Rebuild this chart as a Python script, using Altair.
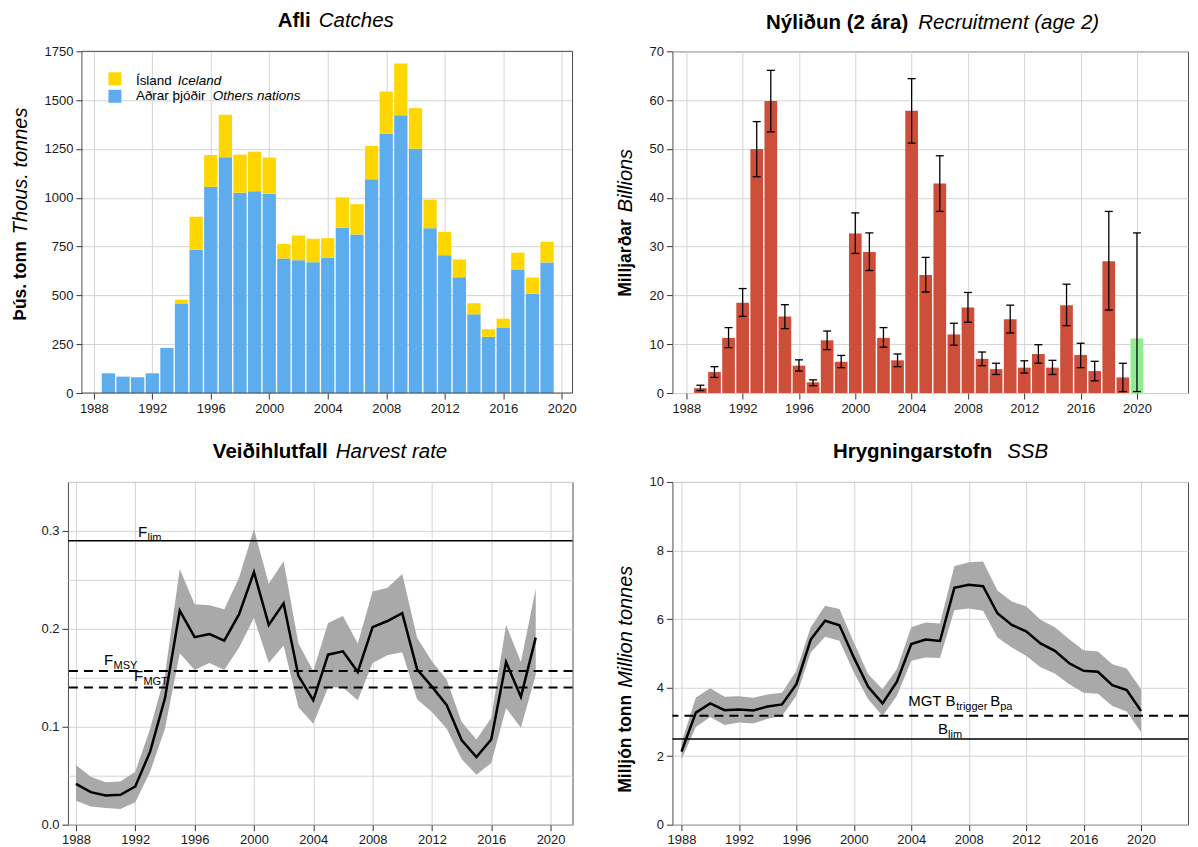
import altair as alt
import pandas as pd

FONT = "Liberation Sans"
FRAME = "#4d4d4d"

# ---------------- data ----------------
catch_years = list(range(1989, 2020))
catch_others = [101, 84, 81, 101, 231, 458, 733, 1056, 1208, 1026, 1034, 1021, 689, 680, 670, 692,
                847, 812, 1095, 1327, 1423, 1251, 844, 706, 593, 403, 288, 333, 632, 509, 669]
catch_iceland = [0, 0, 0, 0, 0, 20, 170, 163, 217, 195, 202, 185, 74, 127, 120, 101,
                 155, 155, 170, 217, 265, 208, 146, 119, 91, 57, 39, 48, 87, 82, 106]

rec_years = list(range(1989, 2021))
rec_value = [1.0, 4.3, 11.3, 18.5, 50.0, 59.8, 15.7, 5.6, 2.2, 10.8, 6.4, 32.7, 28.9, 11.3, 6.7, 57.8,
             24.2, 42.9, 12.0, 17.5, 7.0, 4.9, 15.1, 5.2, 8.0, 5.2, 18.0, 7.8, 4.5, 27.0, 3.2, 11.2]
rec_low = [0.5, 3.2, 9.3, 15.7, 44.3, 53.5, 13.2, 4.5, 1.5, 8.9, 5.2, 28.6, 25.1, 9.4, 5.4, 51.2,
           20.7, 37.2, 9.8, 14.5, 5.6, 3.8, 12.3, 4.1, 6.1, 3.8, 13.8, 5.2, 2.5, 17.0, 0.3, 0.3]
rec_high = [1.6, 5.4, 13.4, 21.4, 55.6, 66.1, 18.1, 6.8, 2.7, 12.7, 7.7, 36.9, 32.8, 13.4, 8.0, 64.4,
            27.8, 48.6, 14.3, 20.6, 8.4, 6.1, 18.0, 6.6, 9.9, 6.7, 22.3, 10.2, 6.5, 37.2, 6.1, 32.8]
rec_kind = ["mat"] * 31 + ["spá"]

hr_years = list(range(1988, 2020))
hr_value = [0.0417, 0.0332, 0.0298, 0.0305, 0.039, 0.0746, 0.129, 0.2186, 0.1915, 0.1946, 0.188,
            0.215, 0.258, 0.204, 0.226, 0.152, 0.127, 0.1736, 0.177, 0.156, 0.2017, 0.208, 0.216,
            0.1586, 0.141, 0.122, 0.0864, 0.069, 0.087, 0.166, 0.1305, 0.191]
hr_low = [0.0244, 0.0186, 0.017, 0.016, 0.023, 0.054, 0.098, 0.175, 0.158, 0.165, 0.158, 0.181,
          0.211, 0.165, 0.183, 0.120, 0.103, 0.140, 0.140, 0.127, 0.165, 0.173, 0.176, 0.128,
          0.115, 0.098, 0.067, 0.051, 0.063, 0.119, 0.099, 0.153]
hr_high = [0.061, 0.049, 0.0434, 0.044, 0.054, 0.098, 0.153, 0.261, 0.225, 0.224, 0.220, 0.2525,
           0.302, 0.246, 0.269, 0.185, 0.157, 0.206, 0.213, 0.185, 0.238, 0.242, 0.256, 0.191,
           0.167, 0.148, 0.105, 0.087, 0.109, 0.204, 0.166, 0.241]

ssb_years = list(range(1988, 2021))
ssb_value = [2.13, 3.27, 3.54, 3.34, 3.36, 3.33, 3.45, 3.51, 4.10, 5.40, 5.95, 5.82, 4.88, 4.02,
             3.54, 4.17, 5.27, 5.40, 5.36, 6.91, 7.00, 6.96, 6.17, 5.83, 5.64, 5.29, 5.07, 4.71,
             4.49, 4.46, 4.07, 3.93, 3.32]
ssb_low = [1.90, 2.85, 3.14, 2.91, 2.98, 2.95, 3.09, 3.17, 3.76, 5.02, 5.48, 5.37, 4.44, 3.66,
           3.17, 3.76, 4.78, 4.88, 4.86, 6.26, 6.31, 6.24, 5.46, 5.17, 4.93, 4.59, 4.41, 4.10,
           3.85, 3.82, 3.46, 3.30, 2.70]
ssb_high = [2.39, 3.71, 3.98, 3.73, 3.75, 3.70, 3.80, 3.85, 4.49, 5.76, 6.39, 6.29, 5.32, 4.39,
            3.95, 4.54, 5.76, 5.90, 5.87, 7.54, 7.66, 7.68, 6.83, 6.51, 6.37, 5.98, 5.76, 5.41,
            5.09, 5.05, 4.68, 4.56, 3.95]

f_lim, f_msy, f_mgt = 0.29, 0.157, 0.14
b_trigger, b_lim = 3.18, 2.5

grid_years_left = list(range(1988, 2021, 2))
grid_years_right = list(range(1988, 2023, 2))
grid_catch = list(range(0, 1751, 125))
grid_rec = list(range(0, 71, 5))
grid_hr = [0.0, 0.05, 0.1, 0.15, 0.2, 0.25, 0.3, 0.35]
grid_ssb = list(range(0, 11))

df_catch = pd.DataFrame({"year": catch_years, "others": catch_others, "iceland": catch_iceland})
df_catch["total"] = df_catch["others"] + df_catch["iceland"]
df_rec = pd.DataFrame({"year": rec_years, "value": rec_value, "low": rec_low, "high": rec_high,
                       "kind": rec_kind})
df_hr = pd.DataFrame({"year": hr_years, "value": hr_value, "low": hr_low, "high": hr_high})
df_ssb = pd.DataFrame({"year": ssb_years, "value": ssb_value, "low": ssb_low, "high": ssb_high})
one = pd.DataFrame({"a": [0]})

# ---------------- layout ----------------
WL, WR = 505, 516
HT, HB = 342, 343
TL_SHIFT = 14


def cond(test, a, b):
    return {"condition": {"test": test, "value": a}, "value": b}


def x_axis(values):
    return alt.Axis(values=values, format="d", title=None, grid=True,
                    labelExpr="datum.value % 4 == 0 ? datum.label : ''",
                    tickOpacity=cond("datum.value % 4 == 0", 1, 0))


def y_axis(values, test, fmt, offset=0):
    return alt.Axis(values=values, format=fmt, title=None, grid=True, offset=offset,
                    labelExpr="(" + test + ") ? datum.label : ''",
                    tickOpacity=cond(test, 1, 0))


def text(t, x, y, size, weight="normal", style="normal", align="left", angle=0,
         baseline="alphabetic"):
    return alt.Chart(one).mark_text(
        text=t, font=FONT, fontSize=size, fontWeight=weight, fontStyle=style,
        align=align, baseline=baseline, angle=angle, color="black"
    ).encode(x=alt.value(x), y=alt.value(y))


def dtext(t, x, y, size, dx=0, dy=0):
    return alt.Chart(one).mark_text(
        text=t, font=FONT, fontSize=size, align="left", baseline="alphabetic",
        dx=dx, dy=dy, color="black"
    ).encode(x=alt.datum(x), y=alt.datum(y))


def title(bold, ital, split_end, split_start, y):
    return [text(bold, split_end, y, 20.5, weight="bold", align="right"),
            text(ital, split_start, y, 20.5, style="italic", align="left")]


def ytitle(bold, ital, x, bold_end, ital_start):
    return [text(bold, x, bold_end, 17.5, weight="bold", align="right", angle=270,
                 baseline="middle"),
            text(ital, x, ital_start, 20, style="italic", align="left", angle=270,
                 baseline="middle")]


# ---------------- top left: catches ----------------
xs_tl = alt.Scale(domain=[1987.53, 2020.4], range=[TL_SHIFT, WL], nice=False, zero=False)
ys_tl = alt.Scale(domain=[0, 1750], nice=False)
blue = alt.Chart(df_catch).mark_bar(color="#5CACEE", size=13.3).encode(
    x=alt.X("year:Q", scale=xs_tl, axis=x_axis(grid_years_left)),
    y=alt.Y("others:Q", scale=ys_tl, axis=y_axis(grid_catch, "datum.value % 250 == 0", "d",
                                                  offset=-TL_SHIFT)),
)
yellow = alt.Chart(df_catch).mark_bar(color="#FFD700", size=13.3).encode(
    x="year:Q", y="others:Q", y2="total:Q")
frame_tl = alt.Chart(one).mark_rect(fillOpacity=0, stroke=FRAME, strokeWidth=1).encode(
    x=alt.value(TL_SHIFT), x2=alt.value(WL), y=alt.value(0), y2=alt.value(HT))
leg = [
    alt.Chart(one).mark_square(size=169, color="#FFD700", opacity=1).encode(
        x=alt.value(47), y=alt.value(27.5)),
    alt.Chart(one).mark_square(size=169, color="#5CACEE", opacity=1).encode(
        x=alt.value(47), y=alt.value(45)),
    text("Ísland", 68, 34, 13.5), text("Iceland", 110, 34, 13.5, style="italic"),
    text("Aðrar þjóðir", 68, 49, 13.5), text("Others nations", 145, 49, 13.5, style="italic"),
]
tl = alt.layer(
    blue, yellow, frame_tl, *leg,
    *title("Afli", "Catches", 243, 251, -24),
    *ytitle("Þús. tonn", "Thous. tonnes", -47, 190, 183),
).properties(width=WL, height=HT, view=alt.ViewBackground(strokeOpacity=0))

# ---------------- top right: recruitment ----------------
xs_r = alt.Scale(domain=[1987.37, 2023.27], nice=False, zero=False)
ys_tr = alt.Scale(domain=[0, 70], nice=False)
bars_r = alt.Chart(df_rec).mark_bar(size=12.7).encode(
    x=alt.X("year:Q", scale=xs_r, axis=x_axis(grid_years_right)),
    y=alt.Y("value:Q", scale=ys_tr, axis=y_axis(grid_rec, "datum.value % 10 == 0", "d")),
    color=alt.Color("kind:N", scale=alt.Scale(domain=["mat", "spá"],
                                              range=["#CD4F39", "#90EE90"]), legend=None),
)
err = alt.Chart(df_rec).mark_rule(color="black", strokeWidth=1.3).encode(
    x="year:Q", y="low:Q", y2="high:Q")
cap_lo = alt.Chart(df_rec).mark_tick(orient="horizontal", size=8, thickness=1.3,
                                     color="black", opacity=1).encode(x="year:Q", y="low:Q")
cap_hi = alt.Chart(df_rec).mark_tick(orient="horizontal", size=8, thickness=1.3,
                                     color="black", opacity=1).encode(x="year:Q", y="high:Q")
tr = alt.layer(
    bars_r, err, cap_lo, cap_hi,
    *title("Nýliðun (2 ára)", "Recruitment (age 2)", 236, 246, -22),
    *ytitle("Milljarðar", "Billions", -46, 168, 161),
).properties(width=WR, height=HT)

# ---------------- bottom left: harvest rate ----------------
xs_bl = alt.Scale(domain=[1987.46, 2021.48], nice=False, zero=False)
ys_bl = alt.Scale(domain=[0, 0.35], nice=False)
band_hr = alt.Chart(df_hr).mark_area(color="#a9a9a9", opacity=1).encode(
    x=alt.X("year:Q", scale=xs_bl, axis=x_axis(grid_years_left)),
    y=alt.Y("low:Q", scale=ys_bl,
            axis=y_axis(grid_hr, "round(datum.value * 100) % 10 == 0 && datum.value < 0.34",
                        ".1f")),
    y2="high:Q",
)
line_hr = alt.Chart(df_hr).mark_line(color="black", strokeWidth=2.5).encode(
    x="year:Q", y="value:Q")
ref_solid_hr = alt.Chart(pd.DataFrame({"v": [f_lim]})).mark_rule(
    color="black", strokeWidth=1.5).encode(y="v:Q")
ref_dash_hr = alt.Chart(pd.DataFrame({"v": [f_msy, f_mgt]})).mark_rule(
    color="black", strokeWidth=2, strokeDash=[9, 6]).encode(y="v:Q")
bl = alt.layer(
    band_hr, line_hr, ref_solid_hr, ref_dash_hr,
    dtext("F", 1992.18, f_lim + 0.004, 15), dtext("lim", 1992.18, f_lim + 0.004, 11, dx=9.5, dy=4),
    dtext("F", 1989.89, f_msy + 0.006, 15), dtext("MSY", 1989.89, f_msy + 0.006, 11, dx=9.5, dy=4),
    dtext("F", 1991.91, f_mgt + 0.0068, 15), dtext("MGT", 1991.91, f_mgt + 0.0068, 11, dx=9.5, dy=4),
    *title("Veiðihlutfall", "Harvest rate", 260, 268, -24),
).properties(width=WL, height=HB)

# ---------------- bottom right: SSB ----------------
ys_br = alt.Scale(domain=[0, 10], nice=False)
band_ssb = alt.Chart(df_ssb).mark_area(color="#a9a9a9", opacity=1).encode(
    x=alt.X("year:Q", scale=xs_r, axis=x_axis(grid_years_right)),
    y=alt.Y("low:Q", scale=ys_br, axis=y_axis(grid_ssb, "datum.value % 2 == 0", "d")),
    y2="high:Q",
)
line_ssb = alt.Chart(df_ssb).mark_line(color="black", strokeWidth=2.5).encode(
    x="year:Q", y="value:Q")
ref_solid_ssb = alt.Chart(pd.DataFrame({"v": [b_lim]})).mark_rule(
    color="black", strokeWidth=1.5).encode(y="v:Q")
ref_dash_ssb = alt.Chart(pd.DataFrame({"v": [b_trigger]})).mark_rule(
    color="black", strokeWidth=2, strokeDash=[9, 6]).encode(y="v:Q")
br = alt.layer(
    band_ssb, line_ssb, ref_solid_ssb, ref_dash_ssb,
    dtext("MGT B", 2003.79, b_trigger + 0.27, 15),
    dtext("trigger", 2003.79, b_trigger + 0.27, 11, dx=48, dy=4),
    dtext("B", 2003.79, b_trigger + 0.27, 15, dx=82),
    dtext("pa", 2003.79, b_trigger + 0.27, 11, dx=92, dy=4),
    dtext("B", 2005.87, b_lim + 0.16, 15), dtext("lim", 2005.87, b_lim + 0.16, 11, dx=10, dy=4),
    *title("Hrygningarstofn", "SSB", 320, 335, -24),
    *ytitle("Milljón tonn", "Million tonnes", -46, 213, 206),
).properties(width=WR, height=HB)

chart = alt.concat(
    tl, tr, bl, br, columns=2, spacing={"row": 89, "column": 100},
    bounds="flush", align="each",
).properties(
    padding={"left": 2, "top": 3, "right": 0, "bottom": 0}, background="white"
).configure(font=FONT).configure_view(
    stroke=FRAME, strokeWidth=1
).configure_axis(
    labelFont=FONT, labelFontSize=13, labelColor="#1a1a1a", tickColor="#333333",
    tickSize=6, tickWidth=1, gridColor="#d4d4d4", gridWidth=1, domain=False, labelPadding=3,
)

chart.save("out.html", embed_options={"renderer": "svg", "actions": False})
